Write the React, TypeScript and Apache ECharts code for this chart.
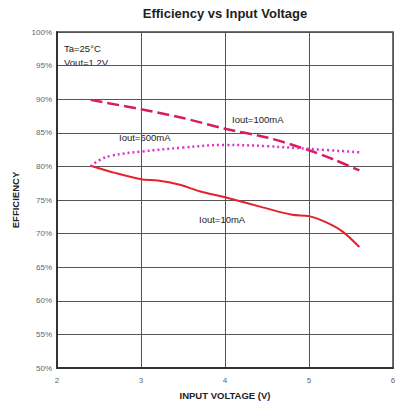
import React, { useEffect, useRef } from "react";
import * as echarts from "echarts";

const xTicks = [2, 3, 4, 5, 6];
const yTicks = [50, 55, 60, 65, 70, 75, 80, 85, 90, 95, 100];

const iout10mA: [number, number][] = [
  [2.4, 80.1], [2.7, 79.0], [3.0, 78.1], [3.2, 77.9], [3.45, 77.3], [3.7, 76.3],
  [4.0, 75.4], [4.45, 73.9], [4.8, 72.8], [5.0, 72.6], [5.2, 71.7], [5.4, 70.3], [5.6, 68.0],
];
const iout100mA: [number, number][] = [
  [2.4, 89.9], [3.0, 88.5], [3.5, 87.2], [4.0, 85.6], [4.5, 84.3], [5.0, 82.4], [5.3, 81.0], [5.6, 79.4],
];
const iout600mA: [number, number][] = [
  [2.4, 80.0], [2.5, 80.9], [2.65, 81.6], [3.0, 82.2], [3.5, 82.8], [4.0, 83.2],
  [4.5, 83.0], [5.0, 82.6], [5.6, 82.1],
];

const FONT = "Liberation Sans, Arial, sans-serif";

export default function App() {
  const ref = useRef<HTMLDivElement>(null);
  useEffect(() => {
    if (!ref.current) return;
    const chart = echarts.init(ref.current, undefined, { renderer: "svg" });
    chart.setOption({
      animation: false,
      backgroundColor: "#ffffff",
      grid: {
        left: 57, right: 7, top: 32, bottom: 33,
        show: true, borderColor: "#444", borderWidth: 1.5,
        outerBoundsMode: "none", containLabel: false,
      },
      xAxis: {
        type: "value", min: xTicks[0], max: xTicks[xTicks.length - 1], interval: 1,
        axisLine: { show: true, lineStyle: { color: "#333", width: 2 } },
        axisTick: { show: false },
        axisLabel: { color: "#666", fontSize: 8, fontFamily: FONT, margin: 8 },
        splitLine: { show: true, lineStyle: { color: "#555", width: 1 } },
        name: "INPUT VOLTAGE (V)", nameLocation: "middle", nameGap: 22,
        nameTextStyle: { color: "#222", fontSize: 9.5, fontWeight: "bold", fontFamily: FONT },
      },
      yAxis: {
        type: "value", min: yTicks[0], max: yTicks[yTicks.length - 1], interval: 5,
        axisLine: { show: true, lineStyle: { color: "#333", width: 2 } },
        axisTick: { show: false },
        axisLabel: { color: "#666", fontSize: 8, fontFamily: FONT, margin: 5, formatter: "{value}%" },
        splitLine: { show: true, lineStyle: { color: "#555", width: 1 } },
        name: "EFFICIENCY", nameLocation: "middle", nameGap: 34,
        nameTextStyle: { color: "#222", fontSize: 9.5, fontWeight: "bold", fontFamily: FONT },
      },
      graphic: [
        { type: "text", x: 225, y: 13, style: { text: "Efficiency vs Input Voltage", fill: "#222", font: `bold 13px ${FONT}`, textAlign: "center", textVerticalAlign: "middle" } },
        { type: "text", x: 64, y: 48, style: { text: "Ta=25°C", fill: "#222", font: `9.5px ${FONT}`, textVerticalAlign: "middle" } },
        { type: "text", x: 64, y: 62, style: { text: "Vout=1.2V", fill: "#222", font: `9.5px ${FONT}`, textVerticalAlign: "middle" } },
        { type: "text", x: 119, y: 137, style: { text: "Iout=600mA", fill: "#222", font: `9.5px ${FONT}`, textVerticalAlign: "middle" } },
        { type: "text", x: 232, y: 119, style: { text: "Iout=100mA", fill: "#222", font: `9.5px ${FONT}`, textVerticalAlign: "middle" } },
        { type: "text", x: 199, y: 219, style: { text: "Iout=10mA", fill: "#222", font: `9.5px ${FONT}`, textVerticalAlign: "middle" } },
      ],
      series: [
        {
          name: "Iout=10mA", type: "line", data: iout10mA, showSymbol: false, smooth: 0.3,
          lineStyle: { color: "#e3222c", width: 2 },
        },
        {
          name: "Iout=100mA", type: "line", data: iout100mA, showSymbol: false, smooth: 0.3,
          lineStyle: { color: "#d81d5e", width: 2.5, type: [12, 5] },
        },
        {
          name: "Iout=600mA", type: "line", data: iout600mA, showSymbol: false, smooth: 0.4,
          lineStyle: { color: "#e030c8", width: 2.5, type: [2, 3] },
        },
      ],
    });
    return () => chart.dispose();
  }, []);
  return <div ref={ref} style={{ width: 400, height: 401, position: "absolute", left: 0, top: 0 }} />;
}
